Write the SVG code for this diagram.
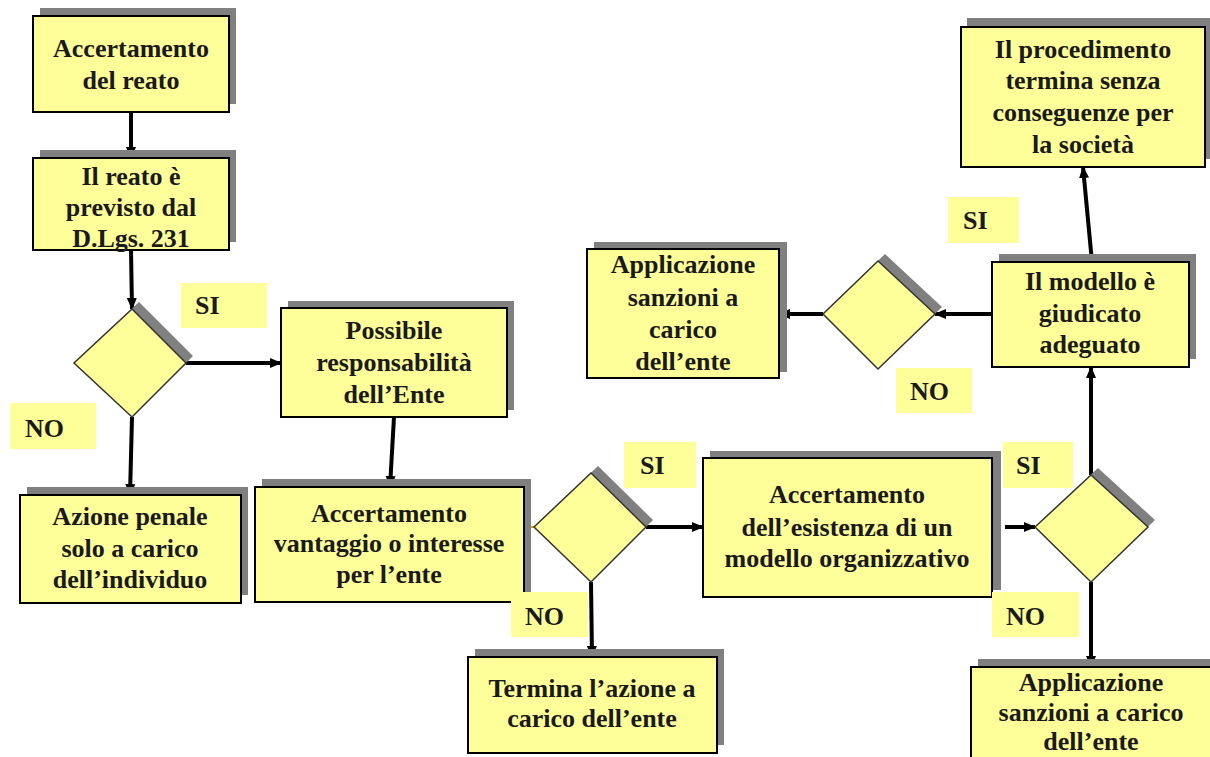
<svg xmlns="http://www.w3.org/2000/svg" width="1210" height="757" viewBox="0 0 1210 757">
<defs>
<style>
.sh{fill:#808080}
.bx{fill:#FFFF99;stroke:#000;stroke-width:2}
.dm{fill:#FFFF99;stroke:#333;stroke-width:1.5}
.lb{fill:#FFFF99}
text{font-family:"Liberation Serif","Times New Roman",serif;font-weight:bold;font-size:26px;fill:#1a1a1a}
.c{text-anchor:middle}
.cn{stroke:#000;stroke-width:4;fill:none;marker-end:url(#ah)}
</style>
<marker id="ah" markerUnits="userSpaceOnUse" markerWidth="12" markerHeight="12" viewBox="0 0 12 12" refX="11" refY="6" orient="auto">
<path d="M0,1 L12,6 L0,11 z" fill="#000"/>
</marker>
</defs>
<rect width="1210" height="757" fill="#fff"/>

<g id="connectors">
<line class="cn" x1="131" y1="112" x2="131" y2="158"/>
<line class="cn" x1="131" y1="250" x2="132" y2="309"/>
<line class="cn" x1="186" y1="363" x2="281" y2="363"/>
<line class="cn" x1="132" y1="417" x2="130" y2="495"/>
<line class="cn" x1="394" y1="417" x2="390" y2="487"/>
<line x1="524" y1="527" x2="534" y2="527" stroke="#E8A000" stroke-width="2"/>
<line class="cn" x1="646" y1="527" x2="703" y2="527"/>
<line class="cn" x1="591" y1="582" x2="592" y2="657"/>
<line class="cn" x1="1005" y1="527" x2="1035" y2="527"/>
<line class="cn" x1="1091" y1="582" x2="1091" y2="667"/>
<line class="cn" x1="1091" y1="475" x2="1091" y2="367"/>
<line class="cn" x1="992" y1="314" x2="935" y2="314"/>
<line class="cn" x1="823" y1="314" x2="779" y2="314"/>
<line class="cn" x1="1092" y1="262" x2="1083" y2="167"/>
</g>

<g id="n1">
<rect class="sh" x="40" y="8" width="196" height="96"/>
<rect class="bx" x="33" y="16" width="196" height="96"/>
<text class="c" x="131" y="57">Accertamento</text>
<text class="c" x="131" y="89">del reato</text>
</g>

<g id="n2">
<rect class="sh" x="40" y="150" width="196" height="92"/>
<rect class="bx" x="33" y="158" width="196" height="92"/>
<text class="c" x="131" y="185">Il reato è</text>
<text class="c" x="131" y="216">previsto dal</text>
<text class="c" x="131" y="247">D.Lgs. 231</text>
</g>

<g id="d1">
<polygon class="sh" points="139,302 193,356 139,410 81,356"/>
<polygon class="dm" points="132,309 186,363 132,417 74,363"/>
</g>

<g id="l1">
<rect class="lb" x="181" y="283" width="86" height="45"/>
<text x="195" y="314">SI</text>
</g>
<g id="l2">
<rect class="lb" x="10" y="403" width="86" height="46"/>
<text x="25" y="437">NO</text>
</g>

<g id="n3">
<rect class="sh" x="288" y="301" width="226" height="109"/>
<rect class="bx" x="281" y="308" width="226" height="109"/>
<text class="c" x="394" y="339">Possibile</text>
<text class="c" x="394" y="371">responsabilità</text>
<text class="c" x="394" y="403">dell’Ente</text>
</g>

<g id="n4">
<rect class="sh" x="27" y="487" width="221" height="108"/>
<rect class="bx" x="20" y="495" width="221" height="108"/>
<text class="c" x="130" y="525">Azione penale</text>
<text class="c" x="130" y="557">solo a carico</text>
<text class="c" x="130" y="588">dell’individuo</text>
</g>

<g id="n5">
<rect class="sh" x="262" y="479" width="269" height="115"/>
<rect class="bx" x="255" y="487" width="269" height="115"/>
<text class="c" x="389" y="522">Accertamento</text>
<text class="c" x="389" y="552">vantaggio o interesse</text>
<text class="c" x="389" y="583">per l’ente</text>
</g>

<g id="d2">
<polygon class="sh" points="598,466 653,520 598,575 541,520"/>
<polygon class="dm" points="591,473 646,527 591,582 534,527"/>
</g>
<g id="l3">
<rect class="lb" x="624" y="442" width="72" height="46"/>
<text x="640" y="474">SI</text>
</g>
<g id="l4">
<rect class="lb" x="511" y="592" width="77" height="45"/>
<text x="525" y="625">NO</text>
</g>

<g id="n6">
<rect class="sh" x="475" y="649" width="249" height="96"/>
<rect class="bx" x="468" y="657" width="249" height="96"/>
<text class="c" x="592" y="697">Termina l’azione a</text>
<text class="c" x="592" y="727">carico dell’ente</text>
</g>

<g id="n7">
<rect class="sh" x="710" y="451" width="291" height="139"/>
<rect class="bx" x="703" y="458" width="289" height="139"/>
<text class="c" x="847" y="503">Accertamento</text>
<text class="c" x="847" y="536">dell’esistenza di un</text>
<text class="c" x="847" y="567">modello organizzativo</text>
</g>

<g id="d3">
<polygon class="sh" points="1098,468 1155,520 1098,575 1042,520"/>
<polygon class="dm" points="1091,475 1148,527 1091,582 1035,527"/>
</g>
<g id="l5">
<rect class="lb" x="1003" y="442" width="70" height="46"/>
<text x="1016" y="474">SI</text>
</g>
<g id="l6">
<rect class="lb" x="992" y="592" width="87" height="45"/>
<text x="1006" y="625">NO</text>
</g>

<g id="n8">
<rect class="sh" x="978" y="659" width="240" height="110"/>
<rect class="bx" x="971" y="667" width="245" height="110"/>
<text class="c" x="1091" y="691">Applicazione</text>
<text class="c" x="1091" y="721">sanzioni a carico</text>
<text class="c" x="1091" y="750">dell’ente</text>
</g>

<g id="n9">
<rect class="sh" x="999" y="254" width="197" height="105"/>
<rect class="bx" x="992" y="262" width="197" height="105"/>
<text class="c" x="1090" y="290">Il modello è</text>
<text class="c" x="1090" y="322">giudicato</text>
<text class="c" x="1090" y="353">adeguato</text>
</g>

<g id="d4">
<polygon class="sh" points="885,254 942,307 885,362 830,307"/>
<polygon class="dm" points="878,261 935,314 878,369 823,314"/>
</g>
<g id="l7">
<rect class="lb" x="948" y="197" width="71" height="46"/>
<text x="963" y="229">SI</text>
</g>
<g id="l8">
<rect class="lb" x="896" y="368" width="76" height="45"/>
<text x="910" y="400">NO</text>
</g>

<g id="n10">
<rect class="sh" x="594" y="242" width="193" height="130"/>
<rect class="bx" x="587" y="249" width="192" height="129"/>
<text class="c" x="683" y="273">Applicazione</text>
<text class="c" x="683" y="306">sanzioni a</text>
<text class="c" x="683" y="338">carico</text>
<text class="c" x="683" y="370">dell’ente</text>
</g>

<g id="n11">
<rect class="sh" x="967" y="18" width="250" height="141"/>
<rect class="bx" x="961" y="27" width="244" height="140"/>
<text class="c" x="1083" y="58">Il procedimento</text>
<text class="c" x="1083" y="89">termina senza</text>
<text class="c" x="1083" y="121">conseguenze per</text>
<text class="c" x="1083" y="153">la società</text>
</g>
</svg>
